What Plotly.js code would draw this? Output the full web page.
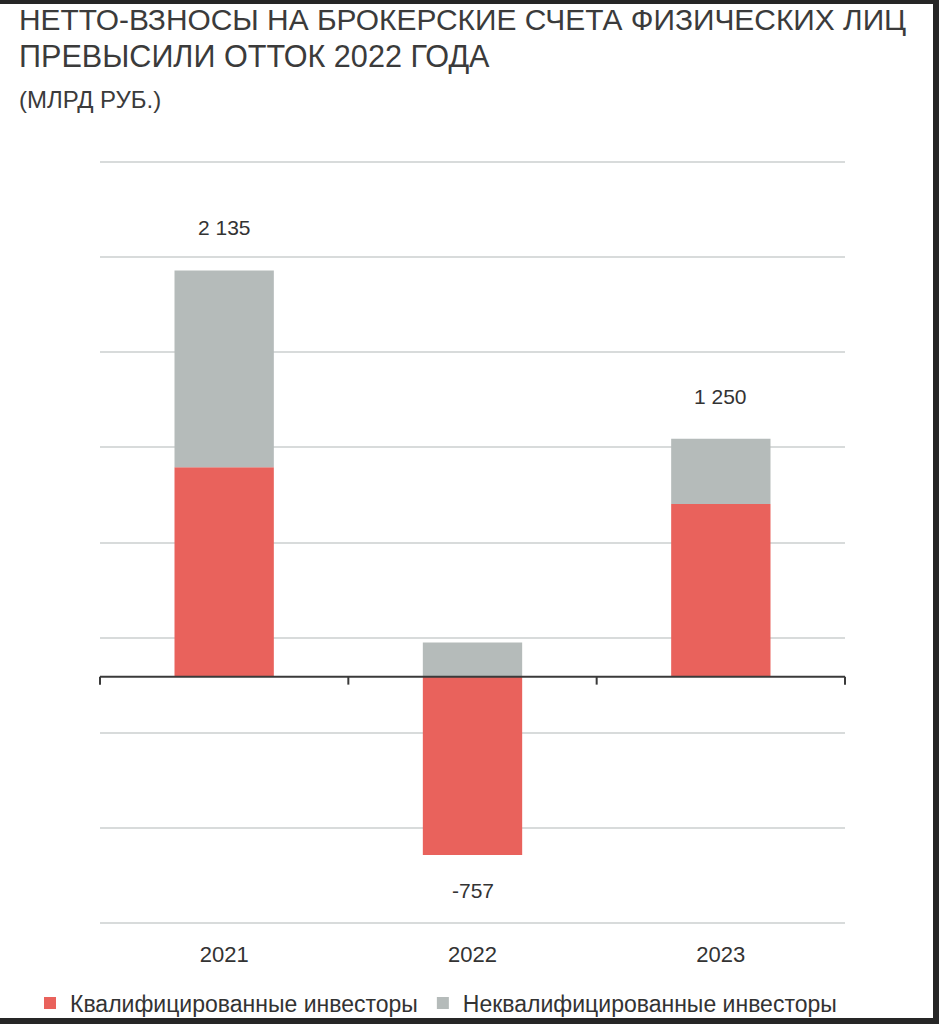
<!DOCTYPE html>
<html>
<head>
<meta charset="utf-8">
<script src="https://cdn.plot.ly/plotly-3.0.1.min.js"></script>
<style>
  html, body { margin: 0; padding: 0; background: #262626; width: 939px; height: 1024px; overflow: hidden; }
  #chart { position: absolute; left: 0; top: 4px; width: 933px; height: 1014px; background: #ffffff; }
</style>
</head>
<body>
<div id="chart"></div>
<script>
// ---- data ----
const years = ['2021', '2022', '2023'];
const qualified = [1100, -937, 908];      // Квалифицированные инвесторы
const nonQualified = [1035, 180, 342];    // Неквалифицированные инвесторы
const totals = [2135, -757, 1250];        // labels
const seriesNames = ['Квалифицированные инвесторы', 'Неквалифицированные инвесторы'];
const titleLines = ['НЕТТО-ВЗНОСЫ НА БРОКЕРСКИЕ СЧЕТА ФИЗИЧЕСКИХ ЛИЦ', 'ПРЕВЫСИЛИ ОТТОК 2022 ГОДА'];
const subtitleText = '(МЛРД РУБ.)';

const RED = '#E9625C';
const GREY = '#B5BBBA';
const FONT = 'Liberation Sans, Arial, sans-serif';

// geometry of the plot area inside the div
const W = 933, H = 1014;
const M = { l: 100, r: 88, t: 154, b: 91, autoexpand: false };
const PW = W - M.l - M.r, PH = H - M.t - M.b;
const px2paperX = px => (px - M.l) / PW;
const px2paperY = py => 1 + (M.t - py) / PH;

function fmt(v) {
  const s = Math.abs(v).toString().replace(/\B(?=(\d{3})+(?!\d))/g, ' ');
  return (v < 0 ? '-' : '') + s;
}

const traces = [
  { type: 'bar', x: years, y: qualified, name: seriesNames[0], marker: { color: RED }, hoverinfo: 'skip' },
  { type: 'bar', x: years, y: nonQualified, name: seriesNames[1], marker: { color: GREY }, hoverinfo: 'skip' }
];

// labels at the end of the stack
const annotations = years.map((yr, i) => {
  const pos = Math.max(0, qualified[i]) + Math.max(0, nonQualified[i]);
  const neg = Math.min(0, qualified[i]) + Math.min(0, nonQualified[i]);
  const up = totals[i] >= 0;
  return {
    x: i, y: up ? pos : neg, xref: 'x', yref: 'y',
    text: fmt(totals[i]), showarrow: false,
    yanchor: up ? 'bottom' : 'top', yshift: up ? 29 : -22,
    font: { family: FONT, size: 21, color: '#333333' }
  };
});

// title block
annotations.push(
  { text: titleLines[0], xref: 'paper', yref: 'paper', x: px2paperX(17), y: px2paperY(16),
    xanchor: 'left', yanchor: 'middle', showarrow: false, font: { family: FONT, size: 29.9, color: '#3b3b3b' } },
  { text: titleLines[1], xref: 'paper', yref: 'paper', x: px2paperX(17), y: px2paperY(52),
    xanchor: 'left', yanchor: 'middle', showarrow: false, font: { family: FONT, size: 30.6, color: '#3b3b3b' } },
  { text: subtitleText, xref: 'paper', yref: 'paper', x: px2paperX(17), y: px2paperY(96),
    xanchor: 'left', yanchor: 'middle', showarrow: false, font: { family: FONT, size: 24, color: '#3b3b3b' } }
);

// zero line and category-boundary ticks
const shapes = [
  { type: 'line', xref: 'paper', yref: 'y', x0: 0, x1: 1, y0: 0, y1: 0, layer: 'above',
    line: { color: '#3a3a3a', width: 2 } }
];
for (let i = 0; i <= years.length; i++) {
  shapes.push({ type: 'line', xref: 'paper', yref: 'y', x0: i / years.length, x1: i / years.length,
    ysizemode: 'pixel', yanchor: 0, y0: 0, y1: -8, layer: 'above',
    line: { color: '#3a3a3a', width: 2 } });
}

const layout = {
  width: W, height: H,
  margin: M,
  paper_bgcolor: '#ffffff', plot_bgcolor: '#ffffff',
  barmode: 'relative', bargap: 0.6,
  font: { family: FONT, color: '#333333' },
  xaxis: {
    type: 'category', range: [-0.5, years.length - 0.5], showgrid: false, zeroline: false, showline: false, ticks: '',
    tickfont: { family: FONT, size: 22, color: '#333333' }, ticklabelstandoff: 12, fixedrange: true, automargin: false
  },
  yaxis: {
    range: [-1316, 2726], tick0: 205, dtick: 500, showticklabels: false, automargin: false,
    showgrid: true, gridcolor: '#D8DBDB', gridwidth: 2, zeroline: false, showline: false, ticks: '', fixedrange: true
  },
  showlegend: true,
  legend: {
    orientation: 'h', xref: 'paper', yref: 'paper',
    x: px2paperX(30), xanchor: 'left', y: px2paperY(999), yanchor: 'middle',
    font: { family: FONT, size: 23, color: '#333333' }, traceorder: 'normal',
    itemwidth: 30, bgcolor: 'rgba(0,0,0,0)'
  },
  annotations: annotations,
  shapes: shapes
};

Plotly.newPlot('chart', traces, layout, { displayModeBar: false, staticPlot: true });
</script>
</body>
</html>
